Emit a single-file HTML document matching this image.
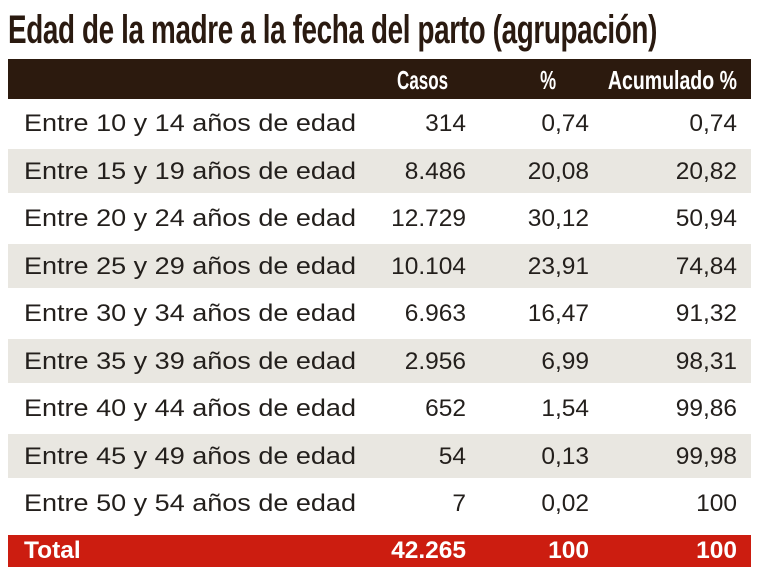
<!DOCTYPE html>
<html><head><meta charset="utf-8"><style>
body{margin:0;width:760px;height:570px;background:#fff;position:relative;overflow:hidden;font-family:"Liberation Sans",sans-serif;color:#231f1c}
.title{position:absolute;left:8px;top:8px;font-family:"Liberation Sans Narrow","Liberation Sans",sans-serif;font-weight:bold;font-size:40px;color:#2a1a10;white-space:nowrap;transform-origin:0 0;letter-spacing:-0.5px}
.hdr{position:absolute;left:8px;top:59px;width:743px;height:40px;background:#2c1a0e}
.h{position:absolute;top:64px;color:#fff;font-family:"Liberation Sans Narrow","Liberation Sans",sans-serif;font-weight:bold;font-size:26px;line-height:32px;white-space:nowrap}
.row{position:absolute;left:8px;width:743px;height:44px}
.sh{background:#e9e7e1}
.t{position:absolute;font-size:24.5px;line-height:30px;white-space:nowrap}
.l{left:24px}
.tot{position:absolute;left:8px;top:535px;width:743px;height:32px;background:#cc1d10}
.w{color:#fff;font-weight:bold}
</style></head><body>
<div class="title" id="tt">Edad de la madre a la fecha del parto (agrupación)</div>
<div class="hdr"></div>
<div class="h" data-w="51" style="right:312px">Casos</div>
<div class="h" data-w="16" style="right:204px">%</div>
<div class="h" data-w="129" style="right:23px">Acumulado %</div>
<div class="row sh" style="top:149px"></div>
<div class="row sh" style="top:244px"></div>
<div class="row sh" style="top:339px"></div>
<div class="row sh" style="top:434px"></div>
<div class="tot"></div>
<div id="rows"></div>
<script>
var d=[["Entre 10 y 14 años de edad","314","0,74","0,74"],["Entre 15 y 19 años de edad","8.486","20,08","20,82"],["Entre 20 y 24 años de edad","12.729","30,12","50,94"],["Entre 25 y 29 años de edad","10.104","23,91","74,84"],["Entre 30 y 34 años de edad","6.963","16,47","91,32"],["Entre 35 y 39 años de edad","2.956","6,99","98,31"],["Entre 40 y 44 años de edad","652","1,54","99,86"],["Entre 45 y 49 años de edad","54","0,13","99,98"],["Entre 50 y 54 años de edad","7","0,02","100"]];
var h="";
d.forEach(function(r,i){var c=124+i*47.5-15;
h+='<div class="t l" style="top:'+c+'px">'+r[0]+'</div>';
h+='<div class="t" style="top:'+c+'px;right:294px">'+r[1]+'</div>';
h+='<div class="t" style="top:'+c+'px;right:171px">'+r[2]+'</div>';
h+='<div class="t" style="top:'+c+'px;right:23px">'+r[3]+'</div>';});
var c=551-15;
h+='<div class="t w" style="top:'+c+'px;left:24px">Total</div>';
h+='<div class="t w" style="top:'+c+'px;right:294px">42.265</div>';
h+='<div class="t w" style="top:'+c+'px;right:171px">100</div>';
h+='<div class="t w" style="top:'+c+'px;right:23px">100</div>';
document.getElementById("rows").innerHTML=h;
document.querySelectorAll(".t.l").forEach(function(e){var w=e.getBoundingClientRect().width;e.style.transformOrigin="0 50%";e.style.transform="scaleX("+(332/w)+")";});
document.querySelectorAll(".h").forEach(function(e){var w=e.getBoundingClientRect().width;e.style.transformOrigin="100% 50%";e.style.transform="scaleX("+(e.getAttribute("data-w")/w)+")";});
var t=document.getElementById("tt");var tw=t.getBoundingClientRect().width;t.style.transform="scaleX("+(649/tw)+")";
</script>
</body></html>
